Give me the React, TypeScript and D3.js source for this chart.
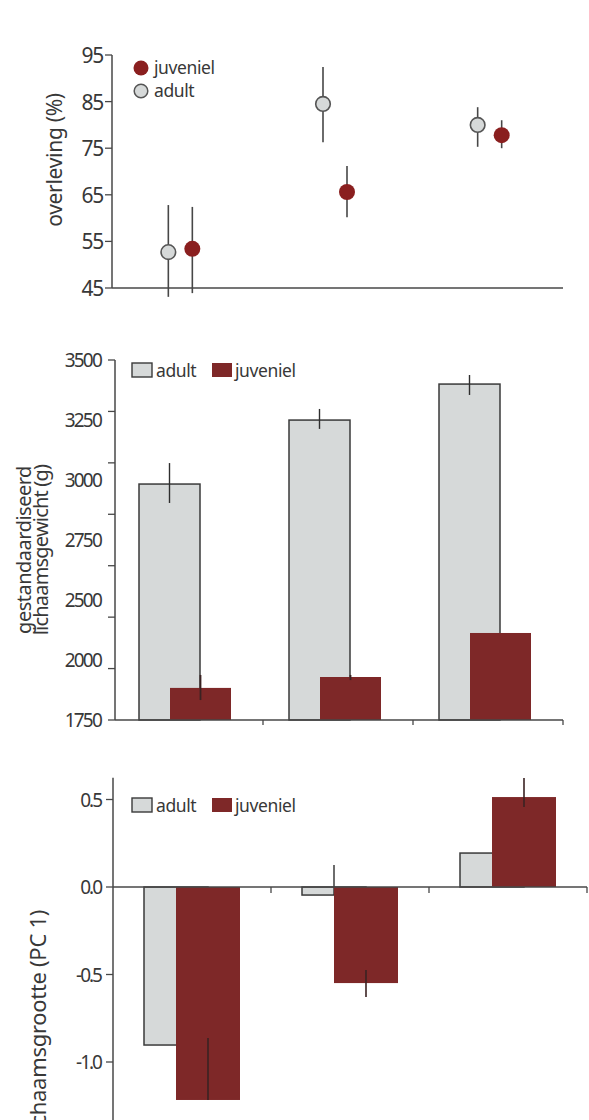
import React from "react";
import * as d3 from "d3";

// ---------- data ----------
const groups = ["g1", "g2", "g3"];

// Panel 1: overleving (%)
const survivalTicks = [45, 55, 65, 75, 85, 95];
const survivalAdult = [52.7, 84.5, 80.0];
const survivalAdultHigh = [62.8, 92.4, 83.8];
const survivalAdultLow = [43.1, 76.3, 75.3];
const survivalJuv = [53.4, 65.6, 77.8];
const survivalJuvHigh = [62.4, 71.2, 81.0];
const survivalJuvLow = [43.9, 60.2, 75.0];

// Panel 2: gestandaardiseerd lichaamsgewicht (g)
const weightTickValues = [1750, 2000, 2250, 2500, 2750, 3000, 3250, 3500];
const weightTickLabels = ["3500", "3250", "3000", "2750", "2500", "2000", "1750"];
const weightAdult = [2897, 3208, 3383];
const weightAdultHigh = [2999, 3262, 3427];
const weightAdultLow = [2805, 3165, 3330];
const weightJuv = [1906, 1959, 2173];
const weightJuvHigh = [1969, 1969, 2173];
const weightJuvLow = [1847, 1944, 2173];

// Panel 3: lichaamsgrootte (PC 1)
const sizeTicks = [0.5, 0.0, -0.5, -1.0];
const sizeTickLabels = ["0.5", "0.0", "-0.5", "-1.0"];
const sizeAdult = [-0.903, -0.046, 0.194];
const sizeAdultHigh = [-0.903, 0.126, 0.194];
const sizeAdultLow = [-0.903, -0.046, 0.194];
const sizeJuv = [-1.217, -0.549, 0.514];
const sizeJuvHigh = [-0.863, -0.474, 0.623];
const sizeJuvLow = [-1.217, -0.629, 0.457];

// ---------- styles ----------
const GREY = "#d6d9d9";
const RED = "#7e2828";
const RED_DOT = "#8a1f1f";
const INK = "#383838";
const AXIS = "#474747";
const FONT = "'Noto Sans', 'Open Sans', sans-serif";

export default function App() {
  // ----- Panel 1 -----
  const y1 = d3.scaleLinear().domain([45, 95]).range([288, 55]);
  const x1 = d3.scaleBand().domain(groups).range([103, 567]);
  const c1 = (g: string) => (x1(g) as number) + x1.bandwidth() / 2;

  // ----- Panel 2 -----
  const y2 = d3.scaleLinear().domain([1750, 3500]).range([720, 360]);
  const y2Label = d3.scalePoint().domain(weightTickLabels).range([360, 720]);
  const x2 = d3.scaleBand().domain(groups).range([113, 563]);
  const c2 = (g: string) => (x2(g) as number) + x2.bandwidth() / 2;
  const bw2 = 61;

  // ----- Panel 3 -----
  const y3 = d3.scaleLinear().domain([0, 0.5]).range([887, 799.5]);
  const x3 = d3.scaleBand().domain(groups).range([113, 587]);
  const c3 = (g: string) => (x3(g) as number) + x3.bandwidth() / 2;
  const bw3 = 64;

  const tickText = {
    fontFamily: FONT,
    fill: INK,
  } as const;

  return (
    <svg
      width={589}
      height={1120}
      style={{ position: "absolute", left: 0, top: 0, background: "#fff" }}
    >
      {/* ================= PANEL 1 ================= */}
      <g>
        <line x1={112} x2={112} y1={y1(95)} y2={y1(45)} stroke={AXIS} strokeWidth={1.5} />
        <line x1={112} x2={563} y1={y1(45)} y2={y1(45)} stroke={AXIS} strokeWidth={1.5} />
        {survivalTicks.map((t) => (
          <g key={t}>
            <line x1={105} x2={112} y1={y1(t)} y2={y1(t)} stroke={AXIS} strokeWidth={1.3} />
            <text
              x={103}
              y={y1(t)}
              textAnchor="end"
              dominantBaseline="central"
              fontSize={21}
              letterSpacing={-1.3}
              {...tickText}
            >
              {t}
            </text>
          </g>
        ))}
        <text
          transform={`translate(62,160) rotate(-90)`}
          textAnchor="middle"
          fontSize={21}
          fontFamily={FONT}
          fill={INK}
          letterSpacing={-0.3}
        >
          overleving (%)
        </text>
        {groups.map((g, i) => (
          <g key={g}>
            <line x1={c1(g) - 12} x2={c1(g) - 12} y1={y1(survivalAdultHigh[i])} y2={y1(survivalAdultLow[i])} stroke={AXIS} strokeWidth={1.6} />
            <line x1={c1(g) + 12} x2={c1(g) + 12} y1={y1(survivalJuvHigh[i])} y2={y1(survivalJuvLow[i])} stroke={AXIS} strokeWidth={1.6} />
            <circle cx={c1(g) - 12} cy={y1(survivalAdult[i])} r={7.3} fill={GREY} stroke="#555" strokeWidth={1.6} />
            <circle cx={c1(g) + 12} cy={y1(survivalJuv[i])} r={8} fill={RED_DOT} />
          </g>
        ))}
        {/* legend */}
        <circle cx={141} cy={68} r={7.5} fill={RED_DOT} />
        <text x={154} y={74} fontSize={17.5} fontFamily={FONT} fill={INK} letterSpacing={-0.4}>
          juveniel
        </text>
        <circle cx={141} cy={91} r={6.8} fill={GREY} stroke="#555" strokeWidth={1.5} />
        <text x={154} y={97} fontSize={17.5} fontFamily={FONT} fill={INK} letterSpacing={-0.4}>
          adult
        </text>
      </g>

      {/* ================= PANEL 2 ================= */}
      <g>
        {groups.map((g, i) => (
          <g key={g}>
            <rect
              x={c2(g) - 49}
              y={y2(weightAdult[i])}
              width={bw2}
              height={y2(1750) - y2(weightAdult[i])}
              fill={GREY}
              stroke="#3a3a3a"
              strokeWidth={1.5}
            />
            <line
              x1={c2(g) - 49 + bw2 / 2}
              x2={c2(g) - 49 + bw2 / 2}
              y1={y2(weightAdultHigh[i])}
              y2={y2(weightAdultLow[i])}
              stroke="#2e2e2e"
              strokeWidth={1.4}
            />
            <rect
              x={c2(g) - 18}
              y={y2(weightJuv[i])}
              width={bw2}
              height={y2(1750) - y2(weightJuv[i])}
              fill={RED}
            />
            <line
              x1={c2(g) - 18 + bw2 / 2}
              x2={c2(g) - 18 + bw2 / 2}
              y1={y2(weightJuvHigh[i])}
              y2={y2(weightJuvLow[i])}
              stroke="#3a2222"
              strokeWidth={1.8}
            />
          </g>
        ))}
        <line x1={115} x2={115} y1={y2(3500)} y2={y2(1750)} stroke={AXIS} strokeWidth={1.5} />
        <line x1={115} x2={563} y1={y2(1750)} y2={y2(1750)} stroke={AXIS} strokeWidth={1.5} />
        {groups.map((g) => (
          <line
            key={g}
            x1={(x2(g) as number) + x2.bandwidth()}
            x2={(x2(g) as number) + x2.bandwidth()}
            y1={y2(1750)}
            y2={y2(1750) + 5}
            stroke={AXIS}
            strokeWidth={1.3}
          />
        ))}
        {weightTickValues.map((t) => (
          <line key={t} x1={108} x2={115} y1={y2(t)} y2={y2(t)} stroke={AXIS} strokeWidth={1.3} />
        ))}
        {weightTickLabels.map((l) => (
          <text
            key={l}
            x={101}
            y={y2Label(l) as number}
            textAnchor="end"
            dominantBaseline="central"
            fontSize={19}
            letterSpacing={-1.8}
            {...tickText}
          >
            {l}
          </text>
        ))}
        <text
          transform={`translate(31,550) rotate(-90)`}
          textAnchor="middle"
          fontSize={20}
          fontFamily={FONT}
          fill={INK}
          letterSpacing={-0.5}
        >
          gestandaardiseerd
        </text>
        <text
          transform={`translate(48,550) rotate(-90)`}
          textAnchor="middle"
          fontSize={20}
          fontFamily={FONT}
          fill={INK}
          letterSpacing={-0.8}
        >
          lichaamsgewicht (g)
        </text>
        {/* legend */}
        <rect x={132} y={363} width={20} height={14} fill={GREY} stroke="#3a3a3a" strokeWidth={1.4} />
        <text x={156} y={377} fontSize={17.5} fontFamily={FONT} fill={INK} letterSpacing={-0.4}>
          adult
        </text>
        <rect x={212} y={363} width={20} height={14} fill={RED} />
        <text x={235} y={377} fontSize={17.5} fontFamily={FONT} fill={INK} letterSpacing={-0.4}>
          juveniel
        </text>
      </g>

      {/* ================= PANEL 3 ================= */}
      <g>
        {groups.map((g, i) => {
          const ax = c3(g) - 48;
          const jx = c3(g) - 16;
          return (
            <g key={g}>
              <rect
                x={ax}
                y={Math.min(y3(sizeAdult[i]), y3(0))}
                width={bw3}
                height={Math.abs(y3(sizeAdult[i]) - y3(0))}
                fill={GREY}
                stroke="#3a3a3a"
                strokeWidth={1.5}
              />
              {sizeAdultHigh[i] !== sizeAdultLow[i] && (
                <line
                  x1={ax + bw3 / 2}
                  x2={ax + bw3 / 2}
                  y1={y3(sizeAdultHigh[i])}
                  y2={y3(sizeAdultLow[i])}
                  stroke="#2e2e2e"
                  strokeWidth={1.4}
                />
              )}
              <rect
                x={jx}
                y={Math.min(y3(sizeJuv[i]), y3(0))}
                width={bw3}
                height={Math.abs(y3(sizeJuv[i]) - y3(0))}
                fill={RED}
              />
              <line
                x1={jx + bw3 / 2}
                x2={jx + bw3 / 2}
                y1={y3(sizeJuvHigh[i])}
                y2={y3(sizeJuvLow[i])}
                stroke="#3a2222"
                strokeWidth={1.6}
              />
            </g>
          );
        })}
        <line x1={113} x2={113} y1={y3(0.624)} y2={y3(-1.4)} stroke={AXIS} strokeWidth={1.5} />
        <line x1={113} x2={587} y1={y3(0)} y2={y3(0)} stroke={AXIS} strokeWidth={1.5} />
        {groups.map((g) => (
          <line
            key={g}
            x1={(x3(g) as number) + x3.bandwidth()}
            x2={(x3(g) as number) + x3.bandwidth()}
            y1={y3(0)}
            y2={y3(0) + 6}
            stroke={AXIS}
            strokeWidth={1.3}
          />
        ))}
        {sizeTicks.map((t, i) => (
          <g key={t}>
            <line x1={106} x2={113} y1={y3(t)} y2={y3(t)} stroke={AXIS} strokeWidth={1.3} />
            <text
              x={101}
              y={y3(t)}
              textAnchor="end"
              dominantBaseline="central"
              fontSize={19}
              letterSpacing={-2}
              {...tickText}
            >
              {sizeTickLabels[i]}
            </text>
          </g>
        ))}
        <text
          transform={`translate(46,910) rotate(-90)`}
          textAnchor="end"
          fontSize={22}
          fontFamily={FONT}
          fill={INK}
          letterSpacing={-0.3}
        >
          lichaamsgrootte (PC 1)
        </text>
        {/* legend */}
        <rect x={132} y={798} width={20} height={14} fill={GREY} stroke="#3a3a3a" strokeWidth={1.4} />
        <text x={156} y={812} fontSize={17.5} fontFamily={FONT} fill={INK} letterSpacing={-0.4}>
          adult
        </text>
        <rect x={212} y={798} width={20} height={14} fill={RED} />
        <text x={235} y={812} fontSize={17.5} fontFamily={FONT} fill={INK} letterSpacing={-0.4}>
          juveniel
        </text>
      </g>
    </svg>
  );
}
